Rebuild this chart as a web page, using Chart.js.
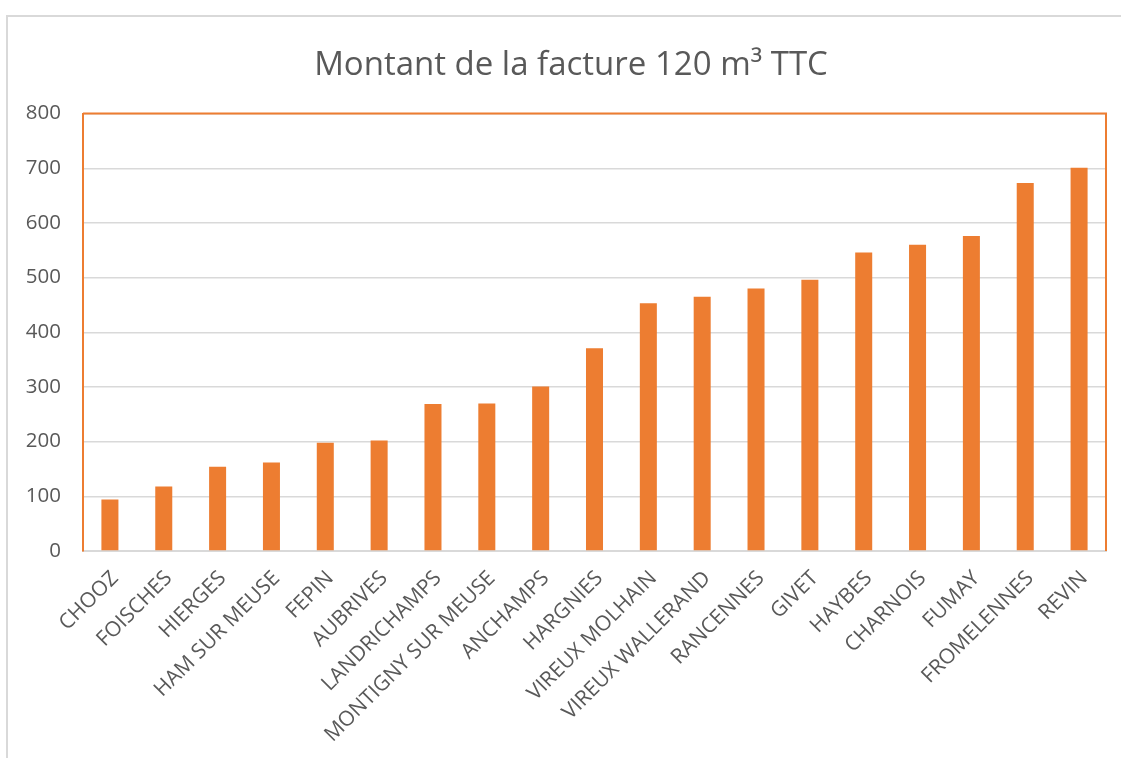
<!DOCTYPE html>
<html lang="fr">
<head>
    <meta charset="UTF-8">
    <title>Montant de la facture 120 m³ TTC</title>
    <style>
        html, body { margin: 0; padding: 0; background: #fff; }
        #wrap { position: relative; width: 1121px; height: 758px; overflow: hidden; }
        #frame {
            position: absolute; left: 6px; top: 15px; width: 1200px; height: 800px;
            border-top: 2px solid #D9D9D9; border-left: 2px solid #D9D9D9;
        }
        #chart { position: absolute; left: 0; top: 0; }
    </style>
</head>
<body>
    <div id="wrap">
        <div id="frame"></div>
        <canvas id="chart" width="1121" height="758"></canvas>
    </div>
    <script src="https://cdn.jsdelivr.net/npm/chart.js"></script>
    <script>
        // communes, sorted by bill amount
        const communes = ['CHOOZ', 'FOISCHES', 'HIERGES', 'HAM SUR MEUSE', 'FEPIN', 'AUBRIVES',
            'LANDRICHAMPS', 'MONTIGNY SUR MEUSE', 'ANCHAMPS', 'HARGNIES', 'VIREUX MOLHAIN',
            'VIREUX WALLERAND', 'RANCENNES', 'GIVET', 'HAYBES', 'CHARNOIS', 'FUMAY',
            'FROMELENNES', 'REVIN'];
        // montant facture 120 m3 TTC (euros)
        const montants = [94, 118, 154, 162, 198, 202, 269, 270, 301, 371, 453, 465, 480, 496,
            546, 560, 576, 673, 701];
        const yTicks = [0, 100, 200, 300, 400, 500, 600, 700, 800];

        const orange = '#ED7D31';
        const grey = '#595959';

        // orange frame around the plot area (top and right sides)
        const plotFrame = {
            id: 'plotFrame',
            afterLayout(chart) {
                // title is centred a bit right of the canvas middle in the original
                chart.titleBlock.left = 36;
            },
            beforeDatasetsDraw(chart) {
                const { ctx, chartArea: a } = chart;
                ctx.save();
                ctx.strokeStyle = orange;
                ctx.lineWidth = 2;
                ctx.beginPath();
                ctx.moveTo(a.left, a.top);
                ctx.lineTo(a.right, a.top);
                ctx.lineTo(a.right, a.bottom);
                ctx.stroke();
                ctx.restore();
            }
        };

        new Chart(document.getElementById('chart'), {
            type: 'bar',
            data: {
                labels: communes,
                datasets: [{
                    data: montants,
                    backgroundColor: orange,
                    borderWidth: 0,
                    barPercentage: 0.316,
                    categoryPercentage: 1.0
                }]
            },
            options: {
                responsive: false,
                animation: false,
                layout: { padding: { left: 0, right: 15, top: 0, bottom: 0 } },
                plugins: {
                    legend: { display: false },
                    tooltip: { enabled: false },
                    title: {
                        display: true,
                        text: 'Montant de la facture 120 m³ TTC',
                        color: grey,
                        font: { family: 'Open Sans', size: 33, weight: 'normal' },
                        padding: { top: 46, bottom: 28 }
                    }
                },
                scales: {
                    x: {
                        grid: { display: false },
                        border: { color: '#D9D9D9', width: 2 },
                        ticks: {
                            color: grey,
                            font: { family: 'Open Sans', size: 21 },
                            minRotation: 45,
                            maxRotation: 45,
                            autoSkip: false,
                            padding: 7,
                            labelOffset: 5
                        },
                        afterFit(scale) { scale.height = 207; }
                    },
                    y: {
                        min: 0,
                        max: 800,
                        afterBuildTicks(scale) { scale.ticks = yTicks.map(v => ({ value: v })); },
                        grid: { color: '#D9D9D9', lineWidth: 1.5, drawTicks: false },
                        border: { color: orange, width: 2 },
                        ticks: {
                            color: grey,
                            font: { family: 'Open Sans', size: 20.5 },
                            padding: 22
                        },
                        afterFit(scale) { scale.width = 83; }
                    }
                }
            },
            plugins: [plotFrame]
        });
    </script>
</body>
</html>
